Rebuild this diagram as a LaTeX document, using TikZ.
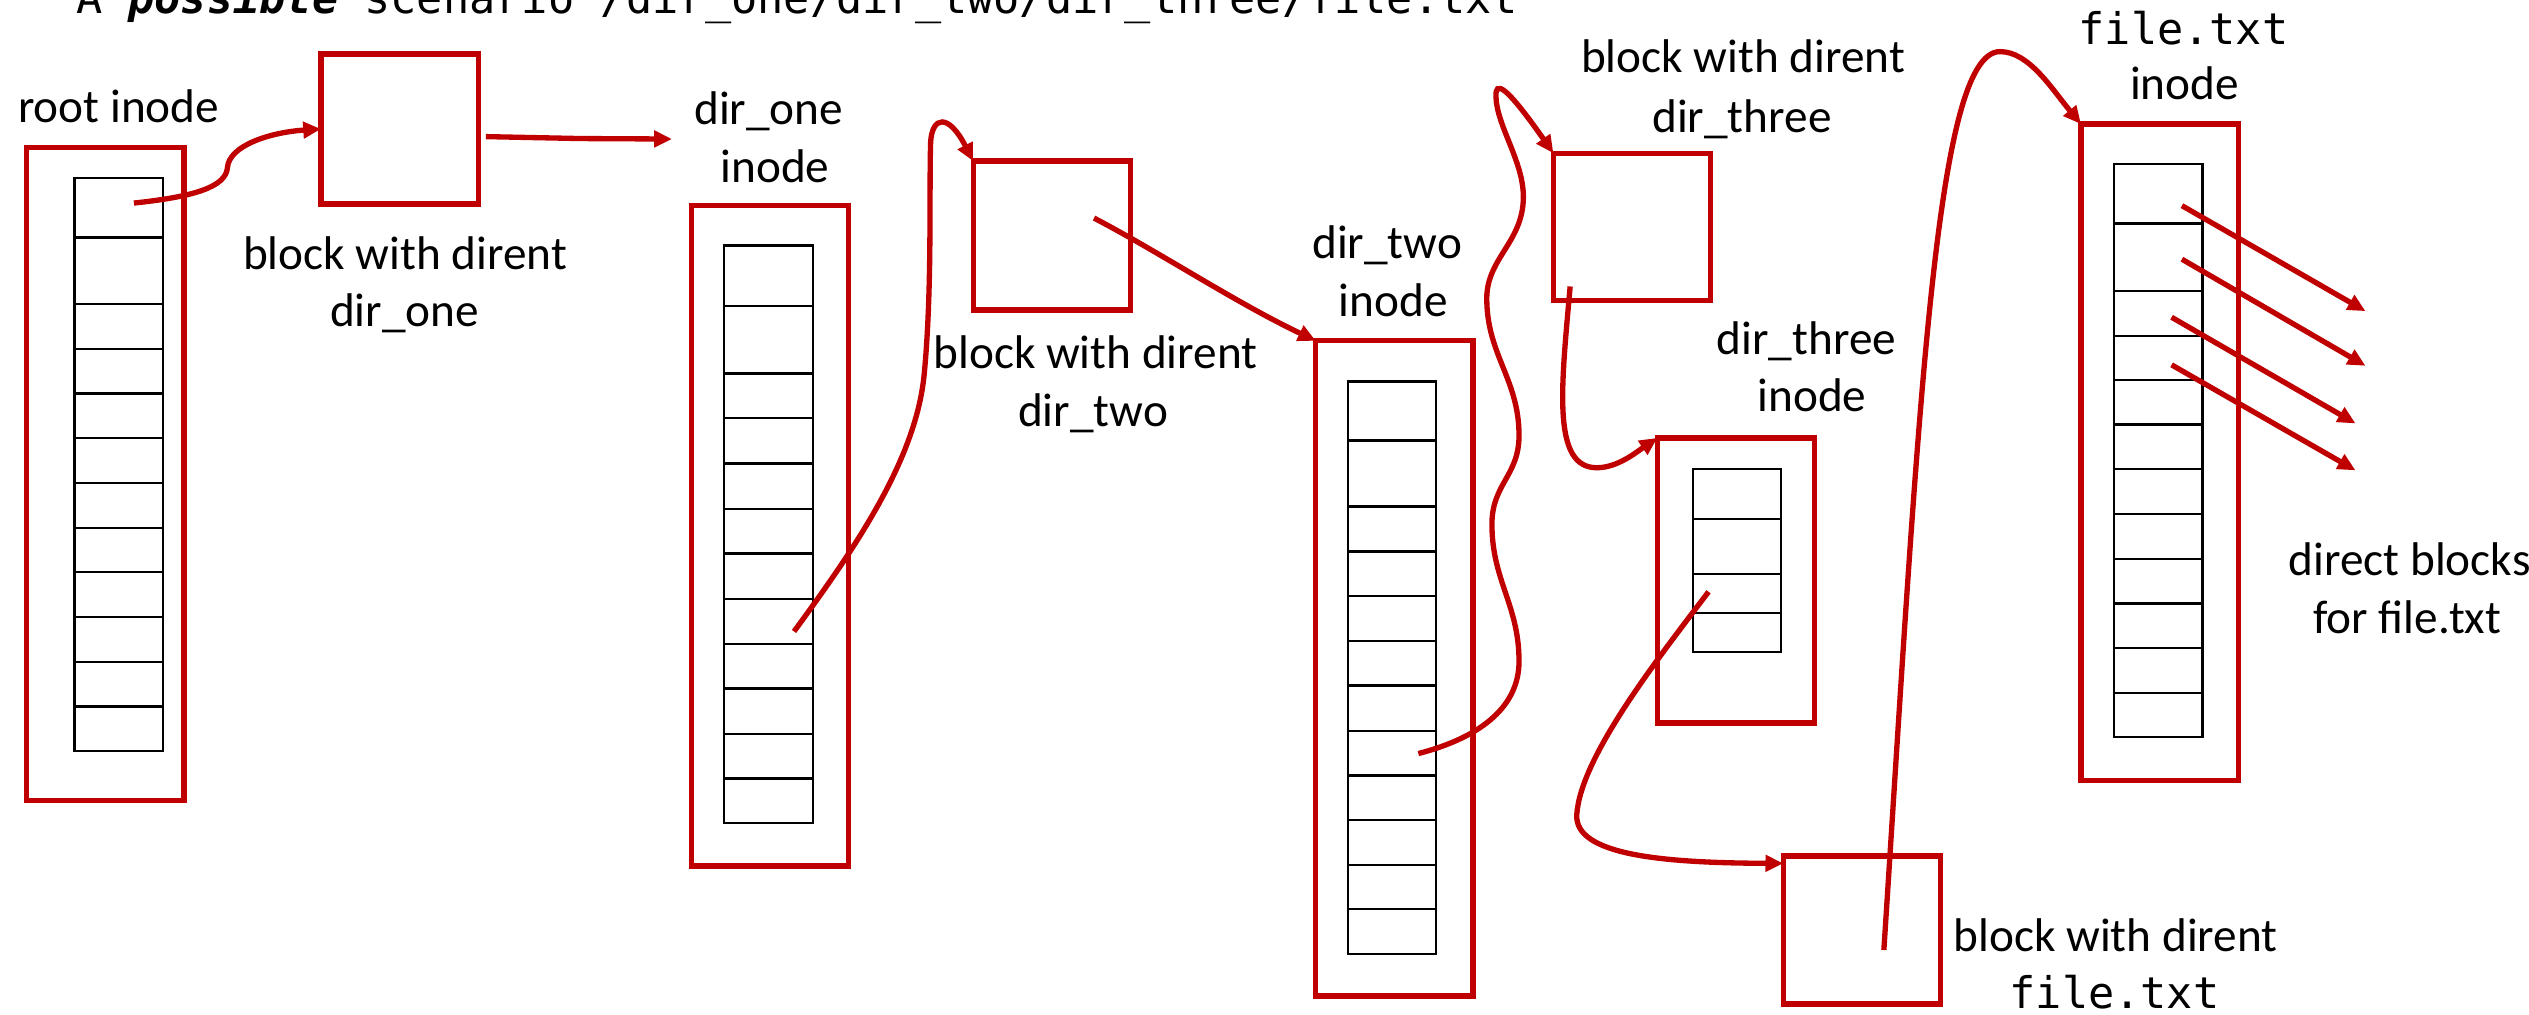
\documentclass[tikz,border=0pt]{standalone}
\usepackage{fontspec}
\setmainfont{Carlito}
\newfontfamily\monof{DejaVu Sans Mono}[BoldFont={DejaVu Sans Mono Bold},ItalicFont={DejaVu Sans Mono Oblique},BoldItalicFont={DejaVu Sans Mono Bold Oblique}]
\usetikzlibrary{arrows.meta}
\definecolor{pptred}{RGB}{192,0,0}
\newcommand\itable[5]{%
  \draw[cell] (#1,#3) rectangle (#2,#4);
  \foreach \yy in {#5} {\draw[cell] (#1,\yy) -- (#2,\yy);}
}
\begin{document}
\begin{tikzpicture}[x=1pt,y=-1pt,
  box/.style={draw=pptred, line width=3.3pt, minimum width=97.5pt, inner sep=0pt, outer sep=0pt},
  cell/.style={draw=black, line width=1.4pt},
  link/.style={draw=pptred, line width=3.3pt, -{Triangle[length=11pt,width=10pt]}},
  lab/.style={anchor=base, inner sep=0pt, font=\fontsize{29.3pt}{36pt}\selectfont},
  mlab/.style={anchor=base, inner sep=0pt, font=\monof\fontsize{27pt}{33pt}\selectfont},
]
\useasboundingbox (0,0) rectangle (1568,629);

% title
\node[mlab, anchor=base west] (title) at (47,8.3) {A \textbf{\textit{possible}} scenario /dir\_one/dir\_two/dir\_three/file.txt};

% outer inode frames and blocks
\node[box, minimum height=405.1pt] (rootO) at (65.3,293.85) {};
\node[box, minimum height=92.9pt] (b1) at (247.75,79.95) {};
\node[box, minimum height=409.3pt] (d1O) at (477.45,332.25) {};
\node[box, minimum height=92.2pt] (b2) at (652.15,146) {};
\node[box, minimum height=406.2pt] (d2O) at (864.55,414.4) {};
\node[box, minimum height=91.5pt] (b3) at (1011.85,140.75) {};
\node[box, minimum height=176.8pt] (d3O) at (1076.3,359.9) {};
\node[box, minimum height=91.8pt] (b4) at (1154.35,576.6) {};
\node[box, minimum height=407pt] (fO) at (1338.95,280.4) {};

% inner tables
\itable{46.2}{101}{110.2}{465.7}{147.2,188.3,216.6,244,271.6,299.5,327.2,354.8,382.5,410.4,438.1}
\itable{448.8}{503.9}{152.2}{510.3}{189.8,231.6,259.3,287.4,315.5,343.2,371.3,399.1,426.8,454.9,482.6}
\itable{835.6}{890.1}{236.6}{591.5}{273.1,314,342,369.7,397.4,425,453.1,480.8,508.5,536.1,563.8}
\itable{1049.6}{1104.4}{290.7}{404.2}{321.6,356.1,380.1}
\itable{1310.9}{1365.6}{101.8}{457}{138.5,180.3,208.1,235.6,263.2,290.7,318.5,346.7,374.2,401.7,429.5}

% labels
\node[lab] (Lroot) at (73.6,75.7) {root inode};
\node[lab] (Lb1a) at (251.2,167) {block with dirent};
\node[lab] (Lb1b) at (250.8,202.5) {dir\_one};
\node[lab] (Ld1a) at (476.6,77.1) {dir\_one};
\node[lab] (Ld1b) at (480.5,113.1) {inode};
\node[lab] (Lb2a) at (679.2,228.2) {block with dirent};
\node[lab] (Lb2b) at (677.7,264.3) {dir\_two};
\node[lab] (Ld2a) at (860,160.4) {dir\_two};
\node[lab] (Ld2b) at (863.9,196.5) {inode};
\node[lab] (Lb3a) at (1080.7,44.9) {block with dirent};
\node[lab] (Lb3b) at (1080,82.2) {dir\_three};
\node[lab] (Ld3a) at (1120,219.7) {dir\_three};
\node[lab] (Ld3b) at (1123.4,255.4) {inode};
\node[mlab] (Lfa) at (1353.8,27.8) {file.txt};
\node[lab] (Lfb) at (1354.4,61.7) {inode};
\node[lab] (Lb4a) at (1311.7,590) {block with dirent};
\node[mlab] (Lb4b) at (1311,625.2) {file.txt};
\node[lab] (Ldir1) at (1494,356.5) {direct blocks};
\node[lab] (Ldir2) at (1492.5,392.7) {for file.txt};

% connector end points
\coordinate (s1) at (83,125.9);
\coordinate (s2) at (301.2,84.7);
\coordinate (e2) at (416.6,86.2);
\coordinate (s3) at (492.3,391.5);
\coordinate (s4) at (678.3,135.2);
\coordinate (s5) at (879.4,467.2);
\coordinate (s6) at (973.5,177.6);
\coordinate (s7) at (1059.3,366.9);
\coordinate (s8) at (1168,589);
\coordinate (a1) at (1352.8,127.5);
\coordinate (t1) at (1466.6,192.9);
\coordinate (a2) at (1352.8,160.7);
\coordinate (t2) at (1466.6,226.8);
\coordinate (a3) at (1346.4,196.7);
\coordinate (t3) at (1460.4,262.5);
\coordinate (a4) at (1346.4,226.2);
\coordinate (t4) at (1460.4,291.6);

% connectors
\draw[link] (s1) .. controls (120,122) and (140,116) .. (141,104) .. controls (142,90) and (168,82) .. (b1.west);
\draw[link] (s2) -- (359.8,85.9) -- (e2);
\draw[link] (s3) .. controls (530,340) and (568,285) .. (573,232) .. controls (578,180) and (576,120) .. (577,88) .. controls (578,72) and (588,70) .. (b2.north west);
\draw[link] (s4) .. controls (720,157) and (765,187) .. (d2O.north west);
\draw[link] (s5) .. controls (915,458) and (941.8,440) .. (941.8,410) .. controls (941.8,375) and (925,360) .. (925,325) .. controls (925,300) and (941.8,295) .. (941.8,270) .. controls (941.8,235) and (921.8,220) .. (921.8,185) .. controls (921.8,160) and (944.5,150) .. (944.5,122) .. controls (944.5,100) and (928,78) .. (927.5,60) .. controls (927,50) and (933,52) .. (b3.north west);
\draw[link] (s6) .. controls (968,240) and (962,290) .. (990,290) .. controls (1003,290) and (1015,280) .. (d3O.north west);
\draw[link] (s7) .. controls (1025,412) and (980,470) .. (977.6,505) .. controls (976,530) and (1030,535) .. ([yshift=-4.6pt]b4.north west);
\draw[link] (s8) .. controls (1190,250) and (1200,32) .. (1240,32) .. controls (1258,32) and (1272,55) .. (fO.north west);
\draw[link] (a1) -- (t1);
\draw[link] (a2) -- (t2);
\draw[link] (a3) -- (t3);
\draw[link] (a4) -- (t4);
\end{tikzpicture}
\end{document}
